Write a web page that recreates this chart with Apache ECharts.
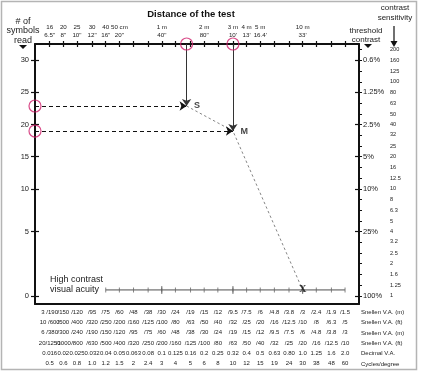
<!DOCTYPE html>
<html><head><meta charset="utf-8">
<script src="https://cdn.jsdelivr.net/npm/echarts@6/dist/echarts.min.js"></script>
<style>html,body{margin:0;padding:0;background:#fff}#c{width:421px;height:373px}</style>
</head><body><div id="c"></div>
<script>
// ---- Top axis: distance of the test (cm), ticks every 0.1 log unit ----
const distanceTicksCm = [16,20,25,32,40,50,63,80,100,125,160,200,250,320,400,500,630,800,1000,1250,1600,2000];
const distanceLabelCm = [16,20,25,32,40,50,100,200,320,400,500,1000];
const distanceMetric = ['16','20','25','30','40','50 cm','1 m','2 m','3 m','4 m','5 m','10 m'];
const distanceImperial = ['6.5"','8"','10"','12"','16"','20"','40"','80"',"10'","13'","16.4'","33'"];

// ---- Bottom rows: visual acuity equivalents ----
const snellenNumerators = ['3 ','10 ','6 ','20'];
const snellenM3 = ['190','150','120','95','75','60','48','38','30','24','19','15','12','9.5','7.5','6','4.8','3.8','3','2.4','1.9','1.5'];
const snellenFt10 = ['600','500','400','320','250','200','160','125','100','80','63','50','40','32','25','20','16','12.5','10','8','6.3','5'];
const snellenM6 = ['380','300','240','190','150','120','95','75','60','48','38','30','24','19','15','12','9.5','7.5','6','4.8','3.8','3'];
const snellenFt20 = ['1250','1000','800','630','500','400','320','250','200','160','125','100','80','63','50','40','32','25','20','16','12.5','10'];
const decimalVA = ['0.016','0.02','0.025','0.032','0.04','0.05','0.063','0.08','0.1','0.125','0.16','0.2','0.25','0.32','0.4','0.5','0.63','0.80','1.0','1.25','1.6','2.0'];
const cyclesPerDegree = ['0.5','0.6','0.8','1.0','1.2','1.5','2','2.4','3','4','5','6','8','10','12','15','19','24','30','38','48','60'];
const rowTitles = ['Snellen V.A. (m)','Snellen V.A. (ft)','Snellen V.A. (m)','Snellen V.A. (ft)','Decimal V.A.','Cycles/degree'];

// ---- Vertical axes ----
const symbolsReadLabels = ['30','25','20','15','10','5','0'];
const majorContrastPct = [0.625,1.25,2.5,5,10,25,100];
const thresholdLabels = ['0.6%','1.25%','2.5%','5%','10%','25%','100%'];
const contrastSensitivity = [200,160,125,100,80,63,50,40,32,25,20,16,12.5,10,8,6.3,5,4,3.2,2.5,2,1.6,1.25,1];

// ---- Test results ----
const testNames = ['S','M'];
const testDistanceCm = [150, 320];
const testContrastPct = [1.68, 2.88];
const acuityDecimalX = 1.0;          // X mark
const acuityLineContrastPct = 88;     // level of the high-contrast acuity line
const acuityLineDecimal = ['0.04','2.0'];
const acuityMajorDecimal = [0.1, 0.32, 1.0];

const FONT = 'Liberation Sans, Arial, sans-serif';
const L = Math.log10;
const xMin = 1.1, xMax = 3.4;
const yMin = -0.354, yMax = 2.076;
const ROW_H = 10.3;

function nearest(arr, v){let bi=0,bd=1e9;arr.forEach((a,i)=>{const d=Math.abs(a-v);if(d<bd){bd=d;bi=i;}});return bi;}
const colX = decimalVA.map(v => L(parseFloat(v)*1000));
const distTickX = distanceTicksCm.map(L);
const distLabelX = distanceLabelCm.map(L);
const majorY = majorContrastPct.map(L);
const csY = contrastSensitivity.map(c => L(100/c));
const yAcu = L(acuityLineContrastPct);
const tests = testNames.map((n,i)=>({name:n, x:L(testDistanceCm[i]), y:L(testContrastPct[i])}));
const acuStartI = decimalVA.indexOf(acuityLineDecimal[0]), acuEndI = decimalVA.indexOf(acuityLineDecimal[1]);
// empty placeholder labels at the axis ends keep every real column label visible
const colLabelPos = [xMin].concat(colX, [xMax]);

const axisCol = '#111';
const yBase = {type:'value', min:yMin, max:yMax, inverse:true, splitLine:{show:false}};
const xBase = {type:'value', min:xMin, max:xMax, splitLine:{show:false}};
const lblCommon = {hideOverlap:false};

const chart = echarts.init(document.getElementById('c'), null, {renderer:'canvas'});
chart.setOption({
  animation:false,
  backgroundColor:'#fff',
  grid:{left:35, right:62, top:44, bottom:69, containLabel:false, outerBoundsMode:'none'},
  xAxis:[
    Object.assign({}, xBase, {position:'bottom',
      axisLine:{onZero:false, lineStyle:{color:axisCol, width:2}}, axisTick:{show:false},
      axisLabel:Object.assign({customValues:colLabelPos, fontFamily:FONT, fontSize:6, lineHeight:ROW_H, margin:3, color:'#222',
        formatter:v=>{ if (Math.abs(v-xMin)<1e-6 || Math.abs(v-xMax)<1e-6) return '';
          const i=nearest(colX,v);const p=k=>i===0?snellenNumerators[k]:'';
          return [p(0)+'/'+snellenM3[i], p(1)+'/'+snellenFt10[i], p(2)+'/'+snellenM6[i], p(3)+'/'+snellenFt20[i], decimalVA[i], cyclesPerDegree[i]].join('\n');}}, lblCommon)}),
    Object.assign({}, xBase, {position:'top',
      axisLine:{onZero:false, lineStyle:{color:axisCol, width:2}},
      axisTick:{show:true, customValues:distTickX, length:3, lineStyle:{color:axisCol, width:1.2}},
      axisLabel:Object.assign({customValues:distLabelX, fontFamily:FONT, fontSize:6.2, lineHeight:8, margin:5, color:'#222',
        showMinLabel:true, showMaxLabel:true,
        formatter:v=>{const i=nearest(distLabelX,v);return distanceMetric[i]+'\n'+distanceImperial[i];}}, lblCommon)}),
    Object.assign({}, xBase, {position:'top',
      axisLine:{show:false, onZero:false},
      axisTick:{show:true, inside:true, customValues:distTickX, length:3, lineStyle:{color:axisCol, width:1.2}},
      axisLabel:{show:false}})
  ],
  yAxis:[
    Object.assign({}, yBase, {position:'left',
      axisLine:{onZero:false, lineStyle:{color:axisCol, width:2}},
      axisTick:{show:true, customValues:majorY, length:4, lineStyle:{color:axisCol, width:1.2}},
      axisLabel:Object.assign({customValues:majorY, fontFamily:FONT, fontSize:7.5, margin:6, color:'#222',
        showMinLabel:true, showMaxLabel:true,
        formatter:v=>symbolsReadLabels[nearest(majorY,v)]}, lblCommon)}),
    Object.assign({}, yBase, {position:'left',
      axisLine:{show:false, onZero:false},
      axisTick:{show:true, inside:true, customValues:majorY, length:4, lineStyle:{color:axisCol, width:1.2}},
      axisLabel:{show:false}}),
    Object.assign({}, yBase, {position:'right',
      axisLine:{onZero:false, lineStyle:{color:axisCol, width:2}},
      axisTick:{show:true, customValues:csY, length:3, lineStyle:{color:axisCol, width:1}},
      axisLabel:Object.assign({customValues:majorY, fontFamily:FONT, fontSize:7.5, margin:4, color:'#222',
        showMinLabel:true, showMaxLabel:true,
        formatter:v=>thresholdLabels[nearest(majorY,v)]}, lblCommon)}),
    Object.assign({}, yBase, {position:'right',
      axisLine:{show:false, onZero:false},
      axisTick:{show:true, inside:true, customValues:majorY, length:4, lineStyle:{color:axisCol, width:1.2}},
      axisLabel:{show:false}}),
    Object.assign({}, yBase, {position:'right', offset:31,
      axisLine:{show:false, onZero:false}, axisTick:{show:false},
      axisLabel:Object.assign({customValues:csY, fontFamily:FONT, fontSize:5.6, margin:0, color:'#222',
        showMinLabel:true, showMaxLabel:true,
        formatter:v=>String(contrastSensitivity[nearest(csY,v)])}, lblCommon)})
  ],
  series:[
    {type:'line', data:[[colX[acuStartI], yAcu],[colX[acuEndI], yAcu]], symbol:'none',
     lineStyle:{color:'#9a9a9a', width:1.8}, silent:true, z:2},
    {type:'scatter', data:colX.slice(acuStartI, acuEndI+1).map(x=>[x,yAcu]), symbol:'rect', symbolSize:[1,5],
     itemStyle:{color:'#666'}, silent:true, z:3},
    {type:'scatter', data:acuityMajorDecimal.map(d=>[L(d*1000),yAcu]), symbol:'rect', symbolSize:[1,8],
     itemStyle:{color:'#555'}, silent:true, z:3},
    {type:'line', data:[[tests[0].x,tests[0].y],[tests[1].x,tests[1].y],[L(acuityDecimalX*1000),yAcu]], symbol:'none',
     lineStyle:{color:'#666', width:0.8, type:[2.5,2.5]}, silent:true, z:3,
     markLine:{silent:true, symbol:['none','arrow'], symbolSize:7, label:{show:false},
       lineStyle:{color:'#333', width:1, type:'solid'}, emphasis:{disabled:true},
       data:tests.map(t=>[{coord:[t.x,yMin]},{coord:[t.x,t.y]}])}},
    {type:'line', data:[], symbol:'none',
     markLine:{silent:true, symbol:['none','arrow'], symbolSize:7, label:{show:false},
       lineStyle:{color:'#111', width:1, type:[4,3]}, emphasis:{disabled:true},
       data:tests.map(t=>[{coord:[xMin,t.y]},{coord:[t.x,t.y]}])}},
    {type:'scatter', data:tests.map(t=>({value:[t.x,t.y], name:t.name})), symbolSize:1, itemStyle:{color:'rgba(0,0,0,0)'},
     label:{show:true, position:'right', distance:7, formatter:p=>p.name, fontFamily:FONT, fontWeight:'bold', fontSize:9, color:'#111'}, silent:true, z:6},
    {type:'scatter', data:[[L(acuityDecimalX*1000), yAcu]], symbolSize:1, itemStyle:{color:'rgba(0,0,0,0)'},
     label:{show:true, position:'inside', formatter:'X', fontFamily:'DejaVu Serif, serif', fontWeight:'bold', fontSize:9, color:'#111'}, silent:true, z:6},
    {type:'scatter', clip:false, symbol:'circle', symbolSize:12,
     data:tests.map(t=>[t.x,yMin]).concat(tests.map(t=>[xMin,t.y])),
     itemStyle:{color:'rgba(0,0,0,0)', borderColor:'#d01f6c', borderWidth:1.2}, silent:true, z:7}
  ],
  graphic:[
    {type:'rect', shape:{x:1.5,y:1.5,width:415,height:368}, style:{fill:'none', stroke:'#b4b4b4', lineWidth:1.5}, silent:true},
    {type:'text', x:191, y:14, style:{text:'Distance of the test', font:'bold 9.5px '+FONT, fill:'#111', align:'center', verticalAlign:'middle'}},
    {type:'text', x:23, y:31, style:{text:'# of\nsymbols\nread', font:'9px '+FONT, lineHeight:9.5, fill:'#222', align:'center', verticalAlign:'middle'}},
    {type:'polygon', shape:{points:[[19,45],[27,45],[23,49]]}, style:{fill:'#111'}},
    {type:'text', x:366, y:35, style:{text:'threshold\ncontrast', font:'8px '+FONT, lineHeight:9, fill:'#222', align:'center', verticalAlign:'middle'}},
    {type:'polygon', shape:{points:[[364,44],[372,44],[368,48]]}, style:{fill:'#111'}},
    {type:'text', x:395, y:13, style:{text:'contrast\nsensitivity', font:'8px '+FONT, lineHeight:10, fill:'#222', align:'center', verticalAlign:'middle'}},
    {type:'line', shape:{x1:394,y1:26,x2:394,y2:42}, style:{stroke:'#111', lineWidth:1.2}},
    {type:'polygon', shape:{points:[[390.5,41],[397.5,41],[394,47]]}, style:{fill:'#111'}},
    {type:'text', x:50, y:285, style:{text:'High contrast\nvisual acuity', font:'9px '+FONT, lineHeight:10, fill:'#222', align:'left', verticalAlign:'middle'}},
    {type:'group', children: rowTitles.map((t,k)=>({type:'text', x:361, y:312.5+ROW_H*k,
      style:{text:t, font:'6px '+FONT, fill:'#222', align:'left', verticalAlign:'middle'}}))}
  ]
});
</script></body></html>
